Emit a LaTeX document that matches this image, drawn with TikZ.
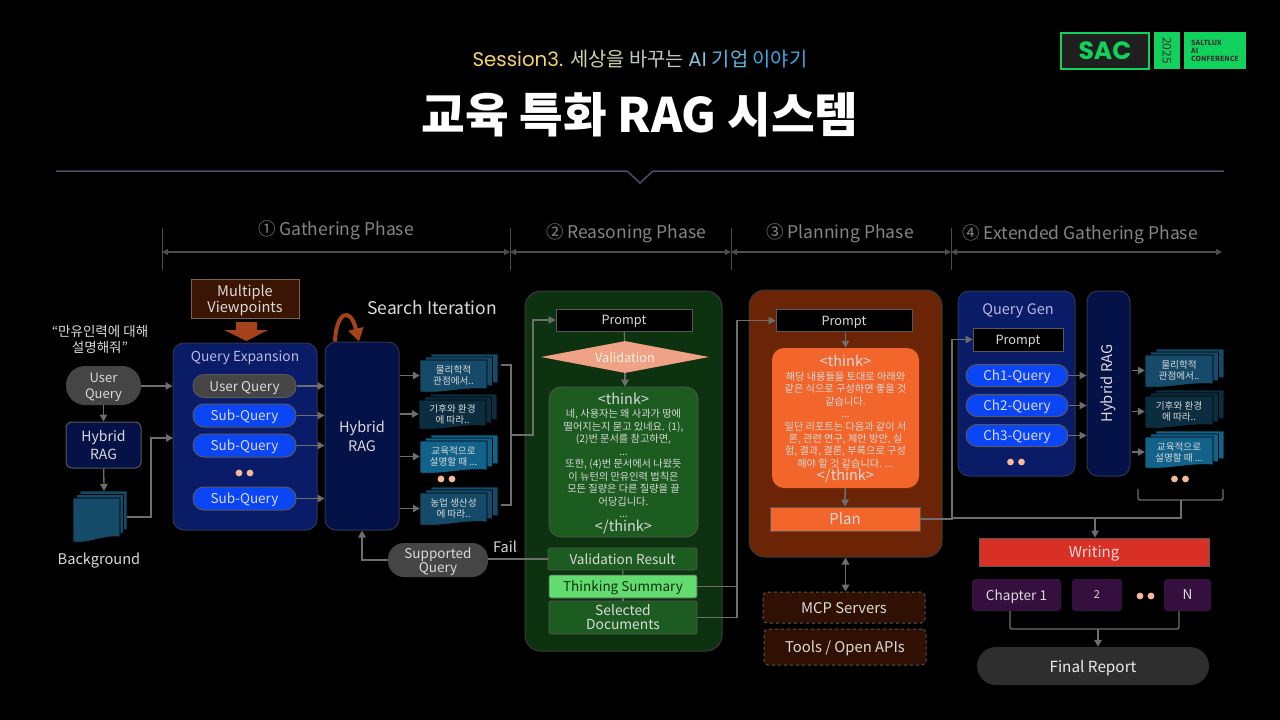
\documentclass[tikz,border=0pt]{standalone}
\usepackage{fontspec}
\setmainfont{Noto Sans CJK KR}
\newfontfamily\headfont{Poppins}
\usetikzlibrary{arrows.meta,shapes.geometric,calc}
\definecolor{linegray}{HTML}{6E6E6E}
\definecolor{edgegray}{HTML}{585858}
\definecolor{softwhite}{HTML}{DADADA}
\definecolor{navypanel}{HTML}{0A1C68}
\definecolor{navydark}{HTML}{051248}
\definecolor{navyedge}{HTML}{2C3656}
\definecolor{pillblue}{HTML}{0A46F5}
\definecolor{pillgray}{HTML}{454545}
\definecolor{docblue}{HTML}{154A68}
\definecolor{docdark}{HTML}{0C2C40}
\definecolor{docbright}{HTML}{12628A}
\definecolor{greenpanel}{HTML}{0D320F}
\definecolor{greenbox}{HTML}{1D5C20}
\definecolor{orangepanel}{HTML}{6B2405}
\definecolor{orangebox}{HTML}{F2662C}
\definecolor{logogreen}{HTML}{12D25E}
\definecolor{rustarrow}{HTML}{A5421A}
\definecolor{peachdot}{HTML}{F4B89A}
\definecolor{chapterfill}{HTML}{35103F}
\definecolor{paneledge}{HTML}{3A3A3A}
\newcommand{\docstack}[7]{%
  \foreach \dx/\dy in {11/-6,5.5/-3,0/0}
    \filldraw[draw=black, line width=0.8pt, fill=#6, shift={(#2+\dx,#3+\dy)}]
      (0,0) -- (#4,0) -- (#4,#5-4) .. controls (#4*0.65,#5-6) and (#4*0.35,#5+1) .. (0,#5-1) -- cycle;
  \node[doctext, minimum width=#4pt] (#1) at (#2+#4/2,#3+#5/2-1) {#7};}
\newcommand{\twodots}[2]{%
  \fill[peachdot] (#1-5.5,#2) circle (3.4) (#1+5.5,#2) circle (3.4);}
\begin{document}
\begin{tikzpicture}[x=1pt,y=-1pt,
  font=\fontsize{14.5}{15.5}\selectfont,
  every node/.style={text=softwhite, inner sep=0pt, align=center, text depth=0pt},
  line/.style={draw=linegray, line width=1.3pt},
  arr/.style={line, -{Triangle[length=7pt,width=7.5pt]}},
  dimarr/.style={draw=gray!60!black, line width=1.2pt, {Triangle[length=6pt,width=6pt]}-{Triangle[length=6pt,width=6pt]}},
  panel/.style={draw=navyedge, line width=1pt, rounded corners=11pt},
  bigpanel/.style={draw=paneledge, line width=1pt, rounded corners=16pt},
  pill/.style={draw=edgegray, line width=1pt, rounded corners=11pt, fill=pillblue, minimum width=103pt, minimum height=23pt, text=white!85!blue, font=\fontsize{13.5}{14}\selectfont},
  promptbox/.style={draw=edgegray, line width=1pt, fill=black, minimum height=22pt, font=\fontsize{12.7}{13}\selectfont},
  phaselab/.style={text=black!48!white, font=\fontsize{17.5}{18}\selectfont},
  thinkbig/.style={font=\fontsize{10.2}{12.45}\selectfont},
  doctext/.style={font=\fontsize{9.6}{11}\selectfont, text=softwhite},
  dashbox/.style={draw=edgegray, dashed, line width=1pt, rounded corners=4pt, fill=orangepanel!45!black, font=\fontsize{14.8}{15}\selectfont},
  chapter/.style={fill=chapterfill, rounded corners=3pt, minimum height=32pt, font=\fontsize{13.6}{15}\selectfont},
  resultbox/.style={draw=edgegray, line width=0.6pt, rounded corners=2pt, fill=greenbox, font=\fontsize{13.5}{14}\selectfont},
  logobox/.style={fill=logogreen, text=black!80}
]
\fill[black] (0,0) rectangle (1280,720);
\useasboundingbox (0,0) rectangle (1280,720);

% header
\node[font=\fontsize{19.8}{21}\selectfont] (session) at (640,58) {\headfont\textcolor[HTML]{F4D56C}{Session3.} \rmfamily\textcolor[HTML]{D0D2A6}{세상을} \textcolor[HTML]{B8CCC4}{바꾸는} \headfont\textcolor[HTML]{8CC6DC}{AI} \rmfamily\textcolor[HTML]{5CB6E2}{기업} \textcolor[HTML]{3CA8E2}{이야기}};
\node[font=\bfseries\fontsize{47.5}{48}\selectfont, text=white] (title) at (640,112) {교육 특화 RAG 시스템};
\draw[draw=blue!15!gray!70!black, line width=1.5pt] (56,171) -- (627,171) -- (640,183) -- (653,171) -- (1224,171);

% logo
\node[draw=logogreen, fill=black!88!white, line width=1.2pt, minimum width=88pt, minimum height=36pt, text=logogreen, font=\headfont\bfseries\fontsize{25}{25}\selectfont] (saclogo) at (1105,51) {SAC};
\node[logobox, rotate=-90, minimum width=37pt, minimum height=26pt, font=\fontsize{12}{12}\selectfont] (yearlogo) at (1167,50.5) {2025};
\node[logobox, minimum width=62pt, minimum height=37pt, font=\bfseries\fontsize{7}{8}\selectfont, align=left] (namelogo) at (1215,50.5) {SALTLUX\\AI\\CONFERENCE};

% phase bars
\foreach \px in {162,510,731,951}
  \draw[draw=gray!60!black, line width=1pt] (\px,228) -- (\px,270);
\coordinate (ph1) at (162,252);
\coordinate (ph2) at (510,252);
\coordinate (ph3) at (731,252);
\coordinate (ph4) at (951,252);
\coordinate (ph5) at (1222,252);
\draw[dimarr] (ph1) -- (ph2);
\draw[dimarr] (ph2) -- (ph3);
\draw[dimarr] (ph3) -- (ph4);
\draw[dimarr] (ph4) -- (ph5);
\node[phaselab] (gatherlab) at (336,228) {① Gathering Phase};
\node[phaselab] (reasonlab) at (626,231) {② Reasoning Phase};
\node[phaselab] (planlab)   at (840,231) {③ Planning Phase};
\node[phaselab] (extlab)    at (1080,232) {④ Extended Gathering Phase};

% gathering
\node[font=\fontsize{13.5}{16}\selectfont] (quote) at (100,339) {“만유인력에 대해\\설명해줘”};
\node[fill=pillgray, rounded corners=19pt, minimum width=75pt, minimum height=39pt, font=\fontsize{13}{16}\selectfont] (uquery) at (103.5,385.5) {User\\Query};
\node[fill=navydark, draw=edgegray, line width=1pt, rounded corners=6pt, minimum width=75pt, minimum height=46pt, font=\fontsize{14}{18}\selectfont] (hyb1) at (103.5,445) {Hybrid\\RAG};
\foreach \dx/\dy in {7/-7,3.5/-3.5,0/0}
  \filldraw[draw=black, line width=0.8pt, fill=docblue, shift={(73+\dx,498+\dy)}]
    (0,0) -- (47,0) -- (47,39) .. controls (30,37) and (18,46) .. (0,44) -- cycle;
\coordinate (bgdoc) at (104,491);
\coordinate (bgout) at (127,517);
\node[font=\fontsize{14.6}{16}\selectfont] (bglab) at (99,559) {Background};

\node[fill=orangepanel!55!black, draw=edgegray!70!brown, line width=1pt, minimum width=108pt, minimum height=39pt, font=\fontsize{14.6}{13.8}\selectfont] (view) at (245,299) {Multiple\\Viewpoints};
\fill[rustarrow] (236,322) -- (257,322) -- (257,330) -- (268,330) -- (246.5,341) -- (224,330) -- (236,330) -- cycle;

\node[panel, fill=navypanel, minimum width=144pt, minimum height=187pt] (qe) at (245,436.5) {};
\node[text=blue!15!softwhite, font=\fontsize{13.8}{14}\selectfont] (qelab) at (245,356) {Query Expansion};
\node[pill, fill=pillgray, text=softwhite] (uq2) at (244.5,386) {User Query};
\node[pill] (sub1) at (244.5,415.5) {Sub-Query};
\node[pill] (sub2) at (244.5,445.5) {Sub-Query};
\node[pill] (sub3) at (244.5,498.5) {Sub-Query};
\twodots{244.5}{473}

\node[panel, fill=navydark, minimum width=74pt, minimum height=188pt, font=\fontsize{14.5}{19}\selectfont] (hyb2) at (362,436) {Hybrid\\RAG};
\node[font=\fontsize{17.5}{18}\selectfont] (iterlab) at (432,308) {Search Iteration};
\draw[draw=rustarrow, line width=4pt, -{Triangle[length=13pt,width=15pt]}]
  ([xshift=-27]hyb2.north) .. controls (336,313) and (350,305) .. ([xshift=-3]hyb2.north);

\docstack{doc1}{420}{360}{67}{33}{docblue}{물리학적\\관점에서..}
\docstack{doc2}{419}{400}{67}{30}{docdark}{기후와 환경\\에 따라..}
\docstack{doc3}{420}{441}{67}{33}{docbright}{교육적으로\\설명할 때 ...}
\docstack{doc4}{420}{493}{67}{33}{docblue}{농업 생산성\\에 따라..}
\twodots{446.5}{479}

\draw[arr] (uquery.east |- uq2) -- (qe.west |- uq2);
\draw[arr] (uquery) -- (hyb1);
\draw[arr] (hyb1) -- (bgdoc);
\draw[arr] (bgout) -- (151,517) |- (173,438);
\draw[arr] (uq2.east) -- (uq2.east -| hyb2.west);
\draw[arr] (sub1.east) -- (sub1.east -| hyb2.west);
\draw[arr] (sub2.east) -- (sub2.east -| hyb2.west);
\draw[arr] (sub3.east) -- (sub3.east -| hyb2.west);
\draw[arr] (doc1.west -| hyb2.east) -- (doc1.west);
\draw[arr] (doc2.west -| hyb2.east) -- (doc2.west);
\draw[arr] (doc3.west -| hyb2.east) -- (doc3.west);
\draw[arr] (doc4.west -| hyb2.east) -- (doc4.west);

% reasoning
\node[bigpanel, fill=greenpanel, minimum width=197pt, minimum height=360pt] (green) at (623.5,471) {};
\node[promptbox, minimum width=136pt] (prompt1) at (624,320) {Prompt};
\node[diamond, aspect=5.25, fill={rgb,255:red,239;green,162;blue,133}, minimum width=168pt, minimum height=32pt, text=orange!12!white, font=\fontsize{12.7}{13}\selectfont] (valid) at (625,357) {Validation};
\node[fill=greenbox, draw=edgegray, line width=0.6pt, rounded corners=12pt, minimum width=149pt, minimum height=150pt, thinkbig] (think1) at (623.5,462) {{\fontsize{14.5}{15}\selectfont <think>}\\[1pt]네, 사용자는 왜 사과가 땅에\\떨어지는지 묻고 있네요. (1),\\(2)번 문서를 참고하면,\\...\\또한, (4)번 문서에서 나왔듯\\이 뉴턴의 만유인력 법칙은\\모든 질량은 다른 질량을 끌\\어당깁니다.\\...\\[1pt]{\fontsize{14.5}{15}\selectfont </think>}};
\node[resultbox, minimum width=149pt, minimum height=22pt] (vres) at (622.5,559) {Validation Result};
\node[resultbox, fill={rgb,255:red,98;green,220;blue,110}, minimum width=148pt, minimum height=23pt, text=greenpanel] (tsum) at (623,586.5) {Thinking Summary};
\node[resultbox, minimum width=148pt, minimum height=33pt, font=\fontsize{13.8}{14}\selectfont] (seldoc) at (623,617.5) {Selected\\Documents};
\node[fill=pillgray, rounded corners=16pt, minimum width=100pt, minimum height=34pt, font=\fontsize{13.5}{12}\selectfont] (squery) at (438,560) {Supported\\Query};
\node (faillab) at (505,547) {Fail};

\coordinate (gatherjoin) at (511,435);
\draw[line] (501,365) -- (511,365) -- (511,505) -- (501,505);
\draw[arr] (gatherjoin) -- (533,435) |- (prompt1.west);
\draw[line] (prompt1) -- (valid);
\draw[arr] (valid) -- (valid.south |- think1.north);
\draw[line] (vres.west) -- (vres.west -| squery.east);
\draw[arr] (squery.west) -| (hyb2.south);
\draw[line] (vres) -- (tsum);
\draw[line] (tsum) -- (seldoc);

% planning
\node[bigpanel, fill=orangepanel, minimum width=193pt, minimum height=267pt] (orange) at (845.5,423.5) {};
\node[promptbox, minimum width=136pt] (prompt2) at (844,320.5) {Prompt};
\node[fill=orangebox, rounded corners=12pt, minimum width=147pt, minimum height=140pt, thinkbig] (think2) at (845.5,418) {{\fontsize{14.5}{15}\selectfont <think>}\\[1pt]해당 내용들을 토대로 아래와\\같은 식으로 구성하면 좋을 것\\같습니다.\\...\\일단 리포트는 다음과 같이 서\\론, 관련 연구, 제안 방안, 실\\험, 결과, 결론, 부록으로 구성\\해야 할 것 같습니다. ...\\[1pt]{\fontsize{14.5}{15}\selectfont </think>}};
\node[fill=orangebox, draw=edgegray, line width=0.6pt, minimum width=150pt, minimum height=24pt, font=\fontsize{15}{16}\selectfont] (plan) at (845,519) {Plan};
\node[dashbox, minimum width=162pt, minimum height=31pt] (mcp) at (844,607.5) {MCP Servers};
\node[dashbox, minimum width=162pt, minimum height=36pt] (tools) at (845,647) {Tools / Open APIs};

\draw[line] (tsum.east) -- (737,586.5);
\draw[arr] (seldoc.east) -- (737,617.5) |- (prompt2.west);
\draw[arr] (prompt2.south -| think2) -- (think2.north);
\draw[arr] (think2) -- (plan);
\draw[arr, {Triangle[length=7pt,width=7.5pt]}-{Triangle[length=7pt,width=7.5pt]}] (orange.south) -- (orange.south |- mcp.north);

% extended gathering
\node[panel, fill=navypanel, minimum width=117pt, minimum height=185pt] (qgen) at (1016.5,383.5) {};
\node[text=blue!15!softwhite] (qgenlab) at (1018,309) {Query Gen};
\node[promptbox, minimum width=90pt, minimum height=23pt] (prompt3) at (1018,339.5) {Prompt};
\node[pill, minimum width=102pt, minimum height=22pt] (ch1) at (1017,375.5) {Ch1-Query};
\node[pill, minimum width=102pt, minimum height=22pt] (ch2) at (1017,405.5) {Ch2-Query};
\node[pill, minimum width=102pt, minimum height=22pt] (ch3) at (1017,435.5) {Ch3-Query};
\twodots{1016}{462}
\node[panel, fill=navydark, minimum width=43pt, minimum height=185pt] (hyb3) at (1108.5,383.5) {\rotatebox{90}{\fontsize{14.7}{15}\selectfont Hybrid RAG}};
\docstack{doc5}{1145}{355}{68}{33}{docblue}{물리학적\\관점에서..}
\docstack{doc6}{1145}{396}{68}{33}{docdark}{기후와 환경\\에 따라..}
\docstack{doc7}{1145}{437}{68}{32}{docbright}{교육적으로\\설명할 때 ...}
\twodots{1180}{479}

\draw[arr] (plan.east) -- (952,519) |- (prompt3.west);
\draw[arr] (ch1.east) -- (ch1.east -| hyb3.west);
\draw[arr] (ch2.east) -- (ch2.east -| hyb3.west);
\draw[arr] (ch3.east) -- (ch3.east -| hyb3.west);
\draw[arr] ([xshift=1pt]doc5.west -| hyb3.east) -- (doc5.west);
\draw[arr] ([xshift=1pt]doc6.west -| hyb3.east) -- (doc6.west);
\draw[arr] ([xshift=1pt]doc7.west -| hyb3.east) -- (doc7.west);

% writing
\node[fill={rgb,255:red,217;green,48;blue,37}, draw=edgegray, line width=0.8pt, minimum width=230pt, minimum height=28pt, text=white!85!red, font=\fontsize{15}{16}\selectfont] (writing) at (1094,552) {Writing};
\node[chapter, minimum width=89pt] (chap1) at (1016.5,595) {Chapter 1};
\node[chapter, minimum width=50pt, font=\fontsize{11}{12}\selectfont] (chap2) at (1097,595) {2};
\node[chapter, minimum width=47pt] (chapn) at (1187.5,595) {N};
\twodots{1145.5}{596}
\node[fill=black!82!white, rounded corners=19pt, minimum width=232pt, minimum height=38pt, font=\fontsize{15.3}{16}\selectfont, text=white!92!black] (final) at (1093,666) {Final Report};

\coordinate (extjoin) at (1181,500);
\coordinate (writejoin) at (1095,518);
\coordinate (chapjoin) at (1098,629);
\draw[line, rounded corners=2pt] (1138,489) |- (extjoin) -| (1223,489);
\draw[line] (extjoin) |- (952,518);
\draw[arr] (writejoin) -- (writejoin |- writing.north);
\draw[line, rounded corners=2pt] ([xshift=-6.5pt]chap1.south) |- (chapjoin) -| ([xshift=-8.5pt]chapn.south);
\draw[arr] (chapjoin) -- (chapjoin |- final.north);
\end{tikzpicture}
\end{document}
